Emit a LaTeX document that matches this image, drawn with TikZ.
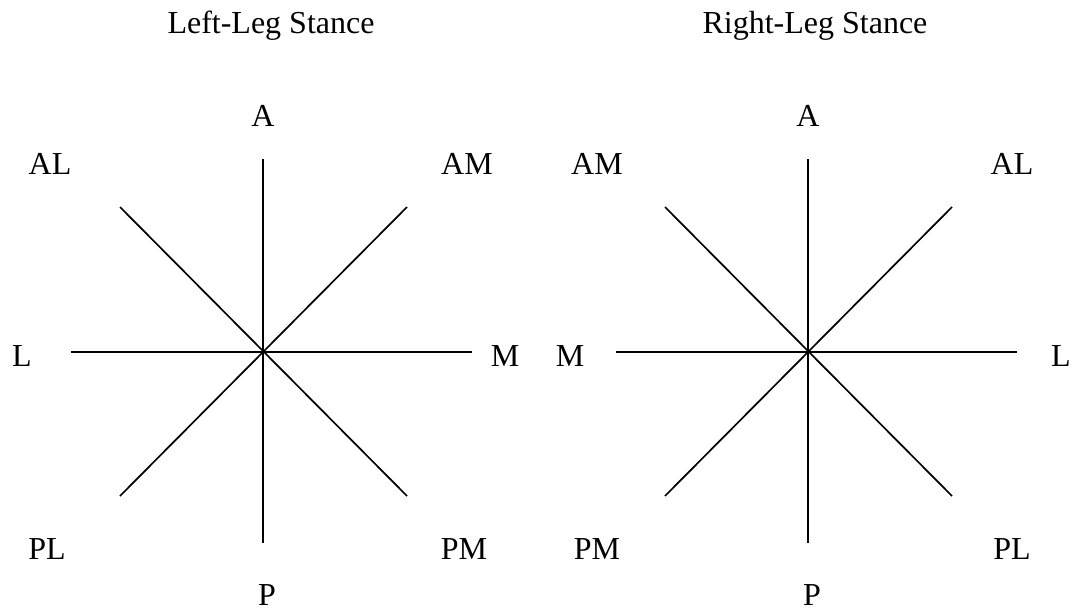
\documentclass[tikz,border=0pt]{standalone}
\usepackage{fontspec}
\setmainfont{Liberation Serif}
\begin{document}
\begin{tikzpicture}[x=1pt,y=-1pt,
  lbl/.style={font=\fontsize{32}{38}\selectfont, inner sep=0pt, anchor=base},
  axis/.style={line width=1.7pt, black}]
\useasboundingbox (0,0) rectangle (1074,611);
% titles
\node[lbl] (t1) at (271,33) {Left-Leg Stance};
\node[lbl] (t2) at (815,33) {Right-Leg Stance};
% left star
\coordinate (c1) at (263,352);
\coordinate (n1) at (263,159);
\coordinate (s1) at (263,543);
\coordinate (w1) at (71,352);
\coordinate (e1) at (472,352);
\coordinate (nw1) at (120,207);
\coordinate (ne1) at (407,207);
\coordinate (sw1) at (120,496);
\coordinate (se1) at (407,496);
\draw[axis] (n1) -- (s1);
\draw[axis] (w1) -- (e1);
\draw[axis] (nw1) -- (se1);
\draw[axis] (ne1) -- (sw1);
\node[lbl] (a1) at (263,126) {A};
\node[lbl] (p1) at (267,605) {P};
\node[lbl] (al1) at (50,174) {AL};
\node[lbl] (am1) at (467,174) {AM};
\node[lbl] (l1) at (22,366) {L};
\node[lbl] (m1) at (505,366) {M};
\node[lbl] (pl1) at (47,559) {PL};
\node[lbl] (pm1) at (464,559) {PM};
% right star
\coordinate (c2) at (808,352);
\coordinate (n2) at (808,159);
\coordinate (s2) at (808,543);
\coordinate (w2) at (616,352);
\coordinate (e2) at (1017,352);
\coordinate (nw2) at (665,207);
\coordinate (ne2) at (952,207);
\coordinate (sw2) at (665,496);
\coordinate (se2) at (952,496);
\draw[axis] (n2) -- (s2);
\draw[axis] (w2) -- (e2);
\draw[axis] (nw2) -- (se2);
\draw[axis] (ne2) -- (sw2);
\node[lbl] (a2) at (808,126) {A};
\node[lbl] (p2) at (812,605) {P};
\node[lbl] (am2) at (597,174) {AM};
\node[lbl] (al2) at (1012,174) {AL};
\node[lbl] (m2) at (570,366) {M};
\node[lbl] (l2) at (1061,366) {L};
\node[lbl] (pm2) at (597,559) {PM};
\node[lbl] (pl2) at (1012,559) {PL};
\end{tikzpicture}
\end{document}
